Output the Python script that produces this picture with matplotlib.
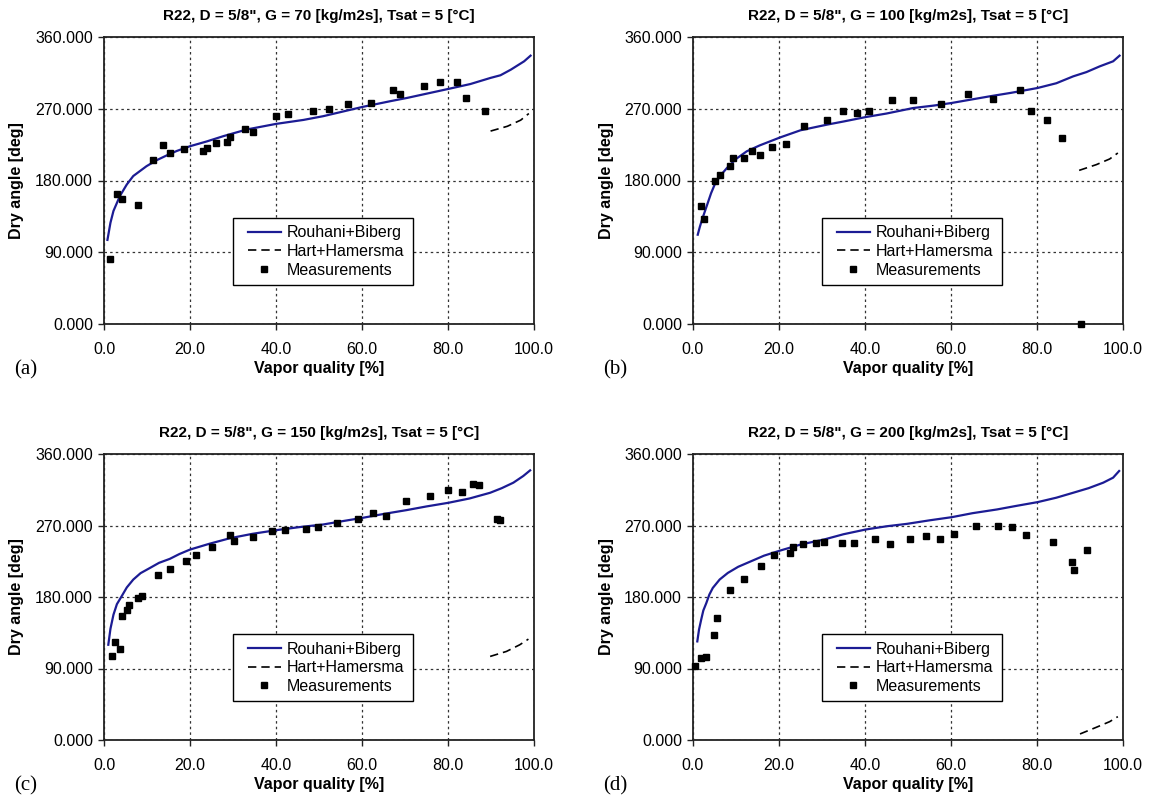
import matplotlib
matplotlib.use("Agg")
import matplotlib.pyplot as plt
from matplotlib.patches import Rectangle
from matplotlib.ticker import FormatStrFormatter, MultipleLocator

plt.rcParams['font.family'] = ['Liberation Sans', 'DejaVu Sans']

titles = ['R22, D = 5/8", G = 70 [kg/m2s], Tsat = 5 [°C]',
          'R22, D = 5/8", G = 100 [kg/m2s], Tsat = 5 [°C]',
          'R22, D = 5/8", G = 150 [kg/m2s], Tsat = 5 [°C]',
          'R22, D = 5/8", G = 200 [kg/m2s], Tsat = 5 [°C]']
panel_labels = ['(a)', '(b)', '(c)', '(d)']

# ---- Panel (a) G = 70
rb_x_a = [0.8, 1.5, 2.2, 3.7, 5.3, 6.8, 8.4, 9.9, 12.3, 14.6, 16.9, 20.0, 23.9, 27.8, 33.2, 40.0, 46.4,
          51.0, 60.2, 66.6, 70.5, 80.2, 85.2, 89.9, 92.2, 94.6, 97.7, 99.2]
rb_y_a = [105.5, 127.0, 141.8, 160.6, 175.0, 185.6, 192.0, 198.0, 205.6, 211.5, 217.0, 223.0, 229.0, 235.7, 244.0, 251.0, 256.0,
          260.7, 272.4, 279.5, 283.6, 295.0, 301.0, 308.7, 312.0, 319.0, 329.5, 336.6]
hh_x_a = [89.9, 93.8, 96.9, 98.8]
hh_y_a = [242.0, 248.0, 255.7, 264.0]
meas_x_a = [1.4, 3.0, 4.3, 8.0, 11.5, 13.8, 15.4, 18.7, 23.1, 23.9, 26.1, 28.6, 29.3, 32.7, 34.6,
            40.1, 42.8, 48.6, 52.3, 56.7, 62.0, 67.2, 68.9, 74.4, 78.1, 82.1, 84.3, 88.5]
meas_y_a = [81.3, 163.5, 157.2, 148.9, 205.6, 224.8, 214.8, 219.0, 216.9, 221.0, 227.3, 228.1, 234.4, 244.0, 240.7,
            261.5, 262.8, 267.8, 269.9, 276.5, 277.4, 294.0, 289.0, 299.0, 303.2, 303.6, 283.6, 266.9]

# ---- Panel (b) G = 100
rb_x_b = [1.1, 1.6, 2.1, 3.3, 4.2, 5.2, 6.5, 7.9, 10.0, 12.5, 15.5, 20.3, 25.0, 31.1, 35.0, 40.2, 45.0,
          51.2, 56.0, 60.1, 69.0, 74.0, 80.1, 84.5, 88.4, 91.5, 94.6, 97.7, 99.2]
rb_y_b = [112.0, 122.0, 130.9, 149.7, 164.0, 176.9, 187.0, 195.7, 207.0, 216.6, 224.0, 234.1, 243.0, 250.0, 254.0, 259.6, 264.0,
          270.9, 274.0, 277.2, 285.6, 290.0, 296.0, 302.0, 310.6, 316.0, 323.2, 329.5, 336.6]
hh_x_b = [89.8, 93.8, 96.9, 98.8]
hh_y_b = [192.7, 199.9, 207.0, 214.5]
meas_x_b = [1.9, 2.6, 5.2, 6.3, 8.7, 9.4, 11.9, 13.7, 15.6, 18.3, 21.7, 25.7, 31.1, 34.8, 38.1, 41.0,
            46.2, 51.1, 57.6, 63.9, 69.7, 76.0, 78.5, 82.4, 85.7, 90.3]
meas_y_b = [147.6, 131.7, 179.8, 186.9, 198.6, 208.6, 208.6, 216.6, 212.4, 221.6, 225.8, 248.8, 256.3, 267.6, 264.7, 266.8,
            281.4, 281.4, 276.4, 288.5, 282.2, 293.9, 266.8, 256.3, 233.3, 0.0]

# ---- Panel (c) G = 150
rb_x_c = [1.0, 1.5, 2.2, 3.0, 4.1, 5.3, 6.8, 8.5, 10.7, 12.8, 15.3, 17.5, 20.0, 24.5, 29.3, 34.5, 40.0, 45.5,
          51.0, 55.5, 60.2, 65.0, 70.4, 75.0, 80.1, 85.0, 89.8, 92.5, 95.2, 97.5, 99.1]
rb_y_c = [119.9, 140.0, 157.7, 171.0, 180.9, 192.0, 201.9, 210.0, 216.6, 223.0, 228.0, 234.0, 239.7, 247.0, 254.0, 259.5, 264.1, 268.0,
          271.3, 275.5, 279.7, 284.5, 289.4, 294.0, 298.6, 304.0, 311.2, 317.0, 323.9, 332.3, 339.4]
hh_x_c = [89.8, 93.6, 96.7, 98.7]
hh_y_c = [105.2, 111.5, 119.9, 127.0]
meas_x_c = [1.8, 2.6, 3.7, 4.1, 5.3, 5.9, 7.8, 8.8, 12.6, 15.3, 19.0, 21.3, 25.0, 29.3, 30.3, 34.6,
            39.0, 42.2, 47.0, 49.7, 54.3, 59.1, 62.6, 65.6, 70.2, 75.7, 79.9, 83.2, 85.7, 87.3, 91.3, 92.2]
meas_y_c = [105.2, 122.8, 114.8, 156.5, 163.2, 169.5, 178.3, 181.3, 208.2, 214.9, 225.4, 232.6, 242.7, 257.8, 250.7, 255.7,
            262.5, 264.6, 265.8, 267.5, 273.0, 277.6, 285.2, 282.2, 300.3, 306.6, 314.2, 312.1, 322.6, 321.3, 278.4, 277.2]

# ---- Panel (d) G = 200
rb_x_d = [1.0, 1.4, 1.9, 2.4, 3.1, 3.8, 4.6, 6.2, 8.1, 10.5, 13.5, 16.5, 20.3, 25.0, 30.5, 35.0, 40.2, 45.0,
          49.8, 55.0, 60.2, 65.0, 70.7, 75.0, 80.2, 84.5, 88.4, 92.0, 95.4, 97.7, 99.1]
rb_y_d = [124.1, 139.0, 151.4, 163.0, 172.4, 183.0, 191.4, 202.0, 210.3, 218.0, 225.0, 232.0, 238.5, 246.0, 252.4, 259.0, 265.0, 269.0,
          272.1, 276.5, 280.5, 285.5, 290.2, 294.5, 299.5, 305.0, 311.2, 317.0, 323.9, 330.2, 338.6]
hh_x_d = [90.0, 93.8, 96.9, 98.8]
hh_y_d = [7.6, 16.0, 23.1, 29.4]
meas_x_d = [0.4, 1.8, 3.1, 4.8, 5.6, 8.5, 11.8, 15.8, 18.8, 22.5, 23.2, 25.6, 28.7, 30.5, 34.6, 37.5,
            42.3, 45.8, 50.4, 54.3, 57.4, 60.6, 65.8, 70.9, 74.3, 77.4, 83.8, 88.2, 88.6, 91.7]
meas_y_d = [93.4, 103.0, 104.3, 132.5, 153.5, 188.4, 203.1, 218.7, 232.6, 235.5, 243.1, 246.1, 248.1, 249.5, 248.1, 248.1,
            252.4, 247.3, 252.4, 256.6, 252.4, 258.7, 270.0, 270.0, 268.3, 257.8, 249.4, 224.2, 213.7, 238.9]

panels = [
    (rb_x_a, rb_y_a, hh_x_a, hh_y_a, meas_x_a, meas_y_a),
    (rb_x_b, rb_y_b, hh_x_b, hh_y_b, meas_x_b, meas_y_b),
    (rb_x_c, rb_y_c, hh_x_c, hh_y_c, meas_x_c, meas_y_c),
    (rb_x_d, rb_y_d, hh_x_d, hh_y_d, meas_x_d, meas_y_d),
]

W, H = 1154, 801
fig = plt.figure(figsize=(W / 100, H / 100), dpi=100)

# axes boxes in pixels: left, top, right, bottom
boxes = [(104, 37, 534, 324), (693, 37, 1123, 324),
         (104, 454, 534, 740), (693, 454, 1123, 740)]

blue = '#1c1c94'

for i, (box, data) in enumerate(zip(boxes, panels)):
    l, t, r, b = box
    ax = fig.add_axes([l / W, 1 - b / H, (r - l) / W, (b - t) / H])
    rbx, rby, hhx, hhy, mx, my = data
    ln1, = ax.plot(rbx, rby, color=blue, lw=1.6, zorder=3, label='Rouhani+Biberg',
                   solid_joinstyle='round')
    ln2, = ax.plot(hhx, hhy, color='black', lw=1.2, ls=(0, (5, 3)), zorder=3, label='Hart+Hamersma')
    ln3, = ax.plot(mx, my, ls='none', marker='s', ms=4.3, color='black', zorder=4,
                   clip_on=False, label='Measurements')
    ax.set_xlim(0, 100)
    ax.set_ylim(0, 360)
    ax.xaxis.set_major_locator(MultipleLocator(20))
    ax.yaxis.set_major_locator(MultipleLocator(90))
    ax.xaxis.set_major_formatter(FormatStrFormatter('%.1f'))
    ax.yaxis.set_major_formatter(FormatStrFormatter('%.3f'))
    ax.tick_params(axis='both', labelsize=11.5, direction='out', length=4, width=1.0, color='#222')
    ax.tick_params(axis='x', pad=9)
    ax.tick_params(axis='y', pad=4)
    ax.grid(True, color='#333333', lw=0.9, ls=(0, (2, 2.5)))
    ax.set_axisbelow(True)
    for sp in ax.spines.values():
        sp.set_linewidth(1.3)
        sp.set_color('#222')

    # legend frame
    ax.add_patch(Rectangle((0.30, 0.135), 0.418, 0.235, transform=ax.transAxes,
                           facecolor='white', edgecolor='black', lw=1.0, zorder=5))
    leg = ax.legend(handles=[ln1, ln2, ln3], loc='center left',
                    bbox_to_anchor=(0.334, 0.2526), frameon=False, fontsize=11.5,
                    borderpad=0, borderaxespad=0, handlelength=2.1, handletextpad=0.35,
                    labelspacing=0.22)
    leg.set_zorder(6)

    # titles and labels
    cx = (l + r) / 2 / W
    fig.text(cx, 1 - (t - 21) / H, titles[i], ha='center', va='center',
             fontsize=11, fontweight='bold')
    fig.text(cx, 1 - (b + 45) / H, 'Vapor quality [%]', ha='center', va='center',
             fontsize=11.5, fontweight='bold')
    fig.text((l - 87) / W, 1 - (t + b) / 2 / H, 'Dry angle [deg]', ha='center', va='center',
             rotation=90, fontsize=11.5, fontweight='bold')
    fig.text((l - 78) / W, 1 - (b + 46) / H, panel_labels[i], ha='center', va='center',
             fontsize=15, family=['Liberation Serif', 'DejaVu Serif'])

fig.savefig('out.png', dpi=100, facecolor='white')
